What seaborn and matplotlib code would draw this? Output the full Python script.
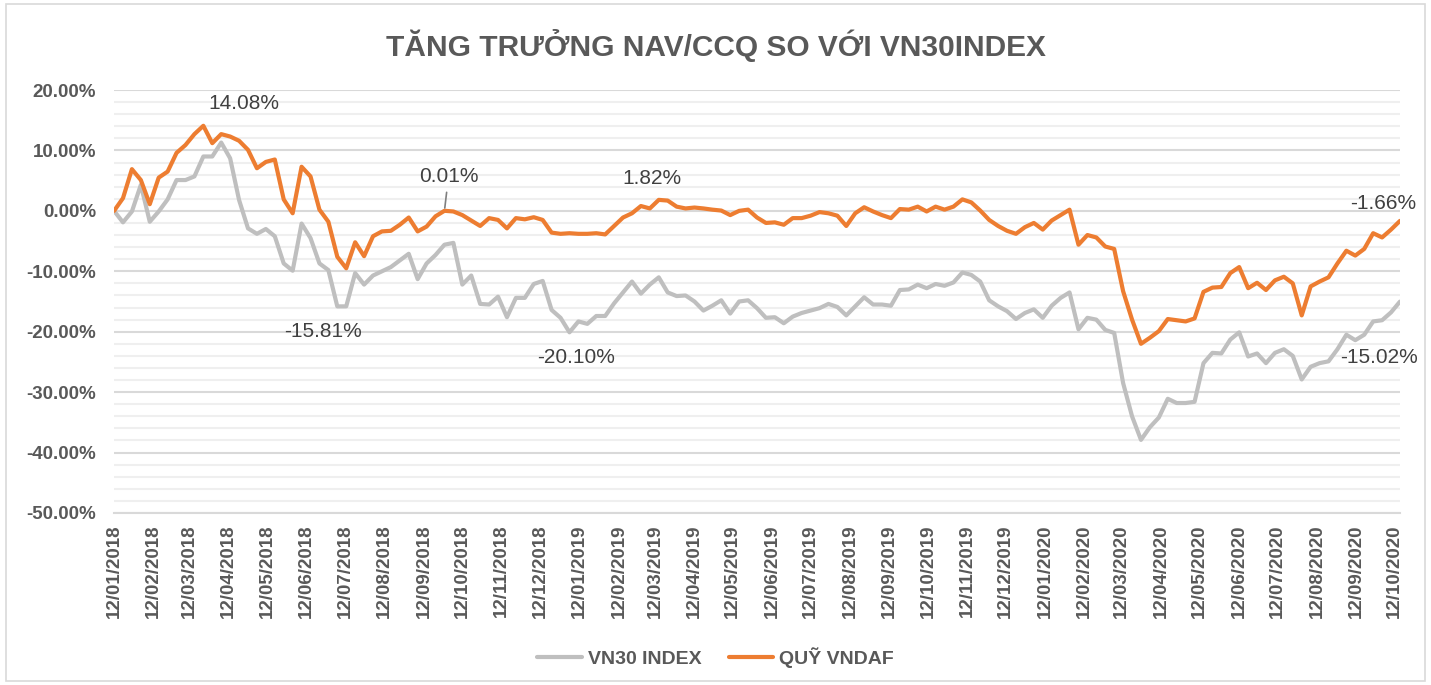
import pandas as pd
import matplotlib
matplotlib.use("Agg")
import matplotlib.pyplot as plt
import matplotlib.dates as mdates
from matplotlib.ticker import MultipleLocator, FuncFormatter
from matplotlib.patches import Rectangle
import seaborn as sns

# Weekly data, starting 12/01/2018 (values in %)
START_DATE = "2018-01-12"

vn30 = [
    0.0, -1.9, -0.1, 4.3, -1.8, -0.1, 1.9, 5.1, 5.1, 5.7,
    9.0, 9.0, 11.3, 8.7, 1.8, -2.9, -3.8, -3.0, -4.2, -8.7,
    -9.9, -2.1, -4.5, -8.7, -9.8, -15.81, -15.8, -10.3, -12.2, -10.7,
    -10.0, -9.3, -8.2, -7.1, -11.3, -8.7, -7.3, -5.6, -5.3, -12.2,
    -10.7, -15.4, -15.5, -14.2, -17.6, -14.4, -14.4, -12.1, -11.6, -16.4,
    -17.7, -20.10, -18.3, -18.7, -17.4, -17.4, -15.3, -13.5, -11.7, -13.7,
    -12.2, -11.0, -13.5, -14.1, -14.0, -15.0, -16.5, -15.7, -14.8, -17.0,
    -15.0, -14.8, -16.1, -17.7, -17.6, -18.6, -17.5, -16.9, -16.5, -16.1,
    -15.4, -15.9, -17.3, -15.8, -14.3, -15.5, -15.5, -15.7, -13.1, -13.0,
    -12.2, -12.8, -12.1, -12.4, -11.85, -10.2, -10.6, -11.7, -14.8, -15.8,
    -16.6, -17.9, -16.9, -16.3, -17.7, -15.7, -14.4, -13.5, -19.6, -17.7,
    -18.0, -19.7, -20.2, -28.5, -34.0, -37.9, -35.8, -34.2, -31.1, -31.8,
    -31.8, -31.6, -25.2, -23.5, -23.6, -21.3, -20.1, -24.1, -23.6, -25.2,
    -23.5, -22.9, -24.0, -27.9, -25.8, -25.2, -24.9, -22.9, -20.5, -21.4,
    -20.5, -18.3, -18.1, -16.8, -15.02,
]

vndaf = [
    0.0, 2.1, 6.9, 5.1, 1.1, 5.5, 6.5, 9.6, 10.9, 12.7,
    14.08, 11.2, 12.7, 12.3, 11.6, 10.1, 7.05, 8.1, 8.5, 1.9,
    -0.4, 7.3, 5.7, 0.2, -1.8, -7.6, -9.5, -5.2, -7.5, -4.2,
    -3.4, -3.3, -2.3, -1.1, -3.4, -2.6, -0.9, 0.01, -0.1, -0.7,
    -1.6, -2.5, -1.2, -1.5, -2.9, -1.2, -1.4, -1.05, -1.5, -3.6,
    -3.8, -3.7, -3.8, -3.8, -3.7, -3.9, -2.5, -1.1, -0.4, 0.8,
    0.4, 1.82, 1.7, 0.7, 0.4, 0.55, 0.4, 0.2, 0.05, -0.7,
    0.0, 0.2, -1.1, -2.0, -1.9, -2.3, -1.2, -1.2, -0.8, -0.2,
    -0.4, -0.8, -2.5, -0.4, 0.6, -0.1, -0.7, -1.2, 0.3, 0.2,
    0.7, -0.1, 0.7, 0.2, 0.7, 1.9, 1.4, 0.05, -1.5, -2.5,
    -3.3, -3.8, -2.7, -2.0, -3.1, -1.6, -0.7, 0.2, -5.6, -4.0,
    -4.4, -5.9, -6.3, -13.3, -18.0, -22.0, -21.0, -19.9, -17.9, -18.1,
    -18.3, -17.8, -13.4, -12.7, -12.6, -10.3, -9.3, -12.8, -11.9, -13.1,
    -11.5, -10.9, -12.0, -17.3, -12.5, -11.7, -11.0, -8.7, -6.6, -7.4,
    -6.3, -3.7, -4.4, -3.1, -1.66,
]

SERIES_NAMES = ["VN30 INDEX", "QUỸ VNDAF"]
COLORS = ["#BFBFBF", "#ED7D31"]
TITLE = "TĂNG TRƯỞNG NAV/CCQ SO VỚI VN30INDEX"

# (series, week index, label, offset in pixels)
LABELS = [
    ("vndaf", 10, "14.08%", (41, 22)),
    ("vndaf", 37, "0.01%", (4, 34)),
    ("vndaf", 61, "1.82%", (-7, 21)),
    ("vndaf", 144, "-1.66%", (-17, 17)),
    ("vn30", 25, "-15.81%", (-14, -25)),
    ("vn30", 51, "-20.10%", (7, -25)),
    ("vn30", 144, "-15.02%", (-21, -56)),
]

dates = pd.date_range(START_DATE, periods=len(vn30), freq="7D")
df = pd.DataFrame({"date": dates, SERIES_NAMES[0]: vn30, SERIES_NAMES[1]: vndaf})
long_df = df.melt(id_vars="date", var_name="series", value_name="value")

sns.set_style("white")
plt.rcParams["font.family"] = ["Liberation Sans", "DejaVu Sans"]

TEXT = "#595959"

fig = plt.figure(figsize=(14.31, 6.85), dpi=100)
ax = fig.add_axes([0.0797, 0.2511, 0.8986, 0.6175])

sns.lineplot(data=long_df, x="date", y="value", hue="series",
             hue_order=SERIES_NAMES, palette=COLORS, linewidth=3.0, ax=ax)
for line in ax.lines:
    line.set_solid_joinstyle("round")
    line.set_solid_capstyle("round")

# axes
ax.set_ylim(-50, 20)
ax.set_xlim(dates[0], dates[-1])
ax.yaxis.set_major_locator(MultipleLocator(10))
ax.yaxis.set_minor_locator(MultipleLocator(2))
ax.yaxis.set_major_formatter(FuncFormatter(lambda v, p: f"{v:.2f}%"))
ax.xaxis.set_major_locator(mdates.MonthLocator(bymonthday=12))
ax.xaxis.set_major_formatter(mdates.DateFormatter("%d/%m/%Y"))
ax.grid(True, axis="y", which="major", color="#d9d9d9", linewidth=1.5)
ax.grid(True, axis="y", which="minor", color="#efefef", linewidth=1.5)
ax.set_axisbelow(True)
for s in ["top", "right", "left"]:
    ax.spines[s].set_visible(False)
ax.spines["bottom"].set_color("#d9d9d9")
ax.spines["bottom"].set_linewidth(1.5)
ax.tick_params(axis="both", which="both", length=0)
ax.tick_params(axis="y", pad=13, labelsize=13.5, labelcolor=TEXT)
ax.tick_params(axis="x", pad=8, labelsize=13.5, labelcolor=TEXT, rotation=90)
for t in ax.get_yticklabels() + ax.get_xticklabels():
    t.set_fontweight("bold")
ax.set_xlabel("")
ax.set_ylabel("")

# data labels
series = {"vn30": vn30, "vndaf": vndaf}
for key, i, text, off in LABELS:
    arrow = None
    if text == "0.01%":
        arrow = dict(arrowstyle="-", color="#7f7f7f", lw=1.2, shrinkA=2, shrinkB=2)
    ax.annotate(text, xy=(dates[i], series[key][i]), xytext=off,
                textcoords="offset pixels", ha="center", va="center",
                fontsize=15, color="#404040", arrowprops=arrow)

# legend
handles, labels = ax.get_legend_handles_labels()
ax.get_legend().remove()
for h in handles:
    h.set_linewidth(3.0)
fig.legend(handles, labels, loc="center", bbox_to_anchor=(0.5, 0.04), ncol=2,
           frameon=False, prop=dict(weight="bold", size=14), labelcolor=TEXT,
           handlelength=2.3, handletextpad=0.3, columnspacing=1.4)

fig.text(0.5, 1 - 45 / 685, TITLE, ha="center", va="center", fontsize=21.5,
         fontweight="bold", color=TEXT)

fig.patches.append(Rectangle((0.004, 0.006), 0.992, 0.988, transform=fig.transFigure,
                             fill=False, edgecolor="#d9d9d9", linewidth=1.2))

fig.savefig("out.png", dpi=100, facecolor="white")
